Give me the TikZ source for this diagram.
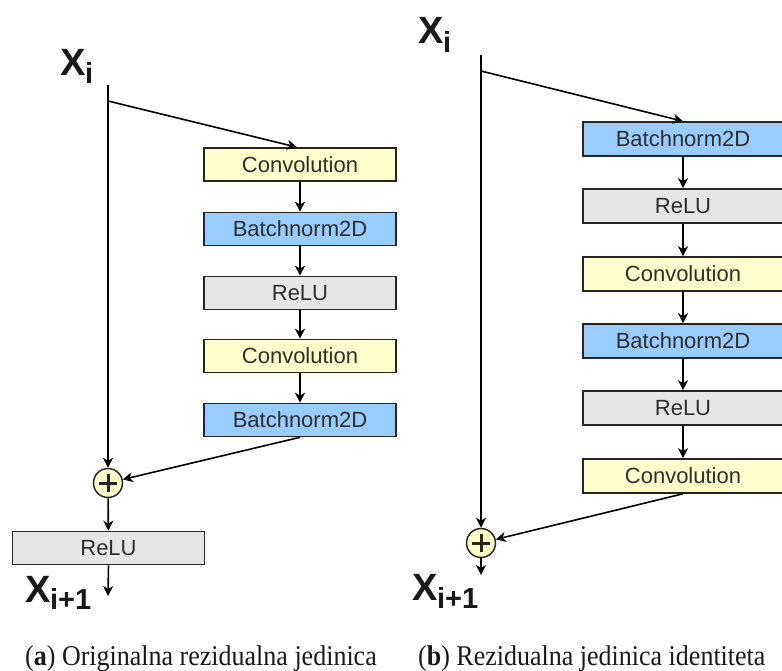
\documentclass[tikz,border=0pt]{standalone}
\usepackage{fontspec}
\setmainfont{Liberation Serif}
\newfontfamily\sansf{Liberation Sans}
\usetikzlibrary{arrows.meta}
\definecolor{cyel}{HTML}{FFFFCC}
\definecolor{cblu}{HTML}{99CCFF}
\definecolor{cgry}{HTML}{E6E6E6}
\definecolor{ctxt}{HTML}{2E2E2E}
\newcommand\XLab[2]{{\sansf\bfseries\fontsize{38}{38}\selectfont X\kern-0.5pt\raisebox{-#2pt}{\fontsize{29}{29}\selectfont #1}}}
\begin{document}
\begin{tikzpicture}[x=1pt,y=-1pt,
  blk/.style={draw=black!85,line width=1.6pt,minimum height=33pt,inner sep=0pt,
     font=\sansf\fontsize{22}{22}\selectfont,text=ctxt},
  lblk/.style={blk,minimum width=192pt},
  rblk/.style={blk,minimum width=200pt,minimum height=34pt},
  yel/.style={fill=cyel},blu/.style={fill=cblu},gry/.style={fill=cgry},
  arr/.style={line width=1.6pt,-{Stealth[length=10pt,width=10pt,inset=3pt]}},
  plus/.style={circle,draw=black!85,line width=1.5pt,fill=cyel,minimum size=29pt,inner sep=0pt,
     path picture={\draw[line width=3pt] ([xshift=-9pt]path picture bounding box.center) -- ([xshift=9pt]path picture bounding box.center);
                   \draw[line width=3pt] ([yshift=-9pt]path picture bounding box.center) -- ([yshift=9pt]path picture bounding box.center);}},
  lab/.style={anchor=base west,inner sep=0pt,text=black!90}
]
\useasboundingbox (0,0) rectangle (782,671);
% ---------- left panel ----------
\node[lab] (xl) at (60,76) {\XLab{i}{8}};
\coordinate (ltop) at (108,85);
\coordinate (lbr) at (108,101);
\node[lblk,yel] (lc1) at (300,164.5) {Convolution};
\node[lblk,blu] (lb1) at (300,229) {Batchnorm2D};
\node[lblk,gry] (lr1) at (300,293) {ReLU};
\node[lblk,yel] (lc2) at (300,356) {Convolution};
\node[lblk,blu] (lb2) at (300,420) {Batchnorm2D};
\node[plus] (lp) at (108,483) {};
\node[lblk,gry] (lr2) at (108.5,548) {ReLU};
\coordinate (lend) at (108,596);
\node[lab] (xl2) at (25,602) {\XLab{i+1}{7}};
\draw[arr] (ltop) -- (lp);
\draw[arr] (lbr) -- ([xshift=-3pt]lc1.north);
\draw[arr] (lc1) -- (lb1);
\draw[arr] (lb1) -- (lr1);
\draw[arr] (lr1) -- (lc2);
\draw[arr] (lc2) -- (lb2);
\draw[arr] (lb2.south) -- (lp);
\draw[arr] (lp) -- (lr2);
\draw[arr] (lr2.south) -- (lend);
% ---------- right panel ----------
\node[lab] (xr) at (418,44) {\XLab{i}{9}};
\coordinate (rtop) at (481,55);
\coordinate (rbr) at (481,71);
\node[rblk,blu] (rb1) at (683,139) {Batchnorm2D};
\node[rblk,gry] (rr1) at (683,206) {ReLU};
\node[rblk,yel] (rc1) at (683,274) {Convolution};
\node[rblk,blu] (rb2) at (683,341) {Batchnorm2D};
\node[rblk,gry] (rr2) at (683,408) {ReLU};
\node[rblk,yel] (rc2) at (683,476) {Convolution};
\node[plus] (rp) at (481,543) {};
\coordinate (rend) at (481,575);
\node[lab] (xr2) at (412,600) {\XLab{i+1}{8}};
\draw[arr] (rtop) -- (rp);
\draw[arr] (rbr) -- (rb1.north);
\draw[arr] (rb1) -- (rr1);
\draw[arr] (rr1) -- (rc1);
\draw[arr] (rc1) -- (rb2);
\draw[arr] (rb2) -- (rr2);
\draw[arr] (rr2) -- (rc2);
\draw[arr] (rc2.south) -- (rp);
\draw[arr] (rp) -- (rend);
% ---------- captions ----------
\node[lab] (capa) at (25,665) {\scalebox{1}[1.1]{\fontsize{26}{26}\selectfont(\textbf{a}) Originalna rezidualna jedinica}};
\node[lab] (capb) at (418,665) {\scalebox{1}[1.1]{\fontsize{26}{26}\selectfont(\textbf{b}) Rezidualna jedinica identiteta}};
\end{tikzpicture}
\end{document}
